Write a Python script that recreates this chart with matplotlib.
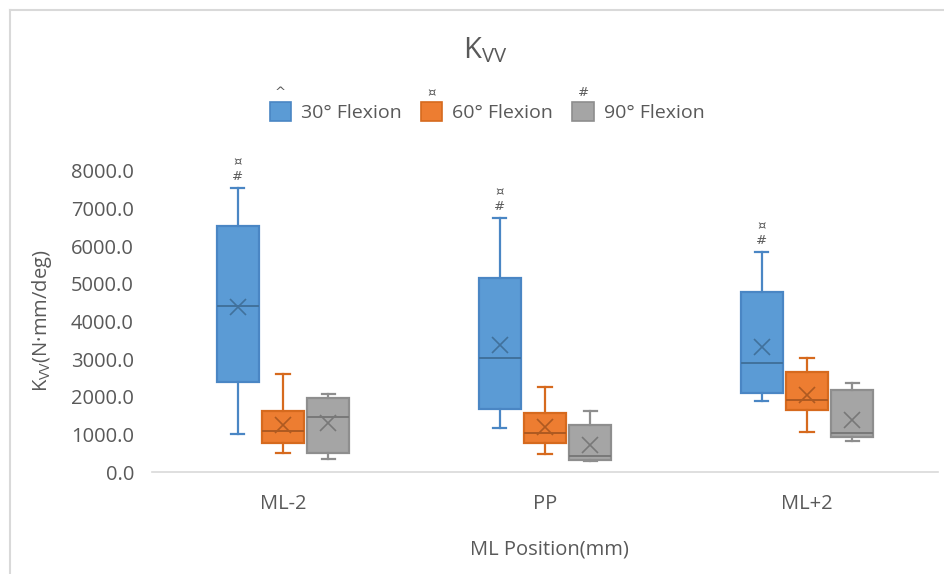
import matplotlib
matplotlib.use("Agg")
import matplotlib.pyplot as plt
from matplotlib.patches import Patch
from matplotlib.lines import Line2D

plt.rcParams['font.family'] = ['Open Sans', 'DejaVu Sans']

# ML positions on the x axis
categories = ["ML-2", "PP", "ML+2"]
series_names = ["30° Flexion", "60° Flexion", "90° Flexion"]
series_marks = ["^", "¤", "#"]

# Box statistics per series, one value per ML position
flex30_whislo = [1010, 1180, 1900]
flex30_q1 = [2385, 1675, 2090]
flex30_med = [4400, 3020, 2890]
flex30_mean = [4380, 3380, 3330]
flex30_q3 = [6540, 5150, 4795]
flex30_whishi = [7550, 6750, 5860]

flex60_whislo = [500, 480, 1070]
flex60_q1 = [760, 760, 1650]
flex60_med = [1090, 1045, 1915]
flex60_mean = [1250, 1190, 2050]
flex60_q3 = [1630, 1560, 2670]
flex60_whishi = [2600, 2250, 3020]

flex90_whislo = [345, 290, 830]
flex90_q1 = [500, 320, 940]
flex90_med = [1470, 425, 1045]
flex90_mean = [1300, 720, 1380]
flex90_q3 = [1980, 1250, 2180]
flex90_whishi = [2060, 1630, 2360]

# significance marks drawn above the 30° boxes
flex30_marks = ["¤\n#", "¤\n#", "¤\n#"]

y_ticks = [0, 1000, 2000, 3000, 4000, 5000, 6000, 7000, 8000]

series_stats = [
    (flex30_whislo, flex30_q1, flex30_med, flex30_mean, flex30_q3, flex30_whishi),
    (flex60_whislo, flex60_q1, flex60_med, flex60_mean, flex60_q3, flex60_whishi),
    (flex90_whislo, flex90_q1, flex90_med, flex90_mean, flex90_q3, flex90_whishi),
]

fills = ["#5B9BD5", "#ED7D31", "#A5A5A5"]
edges = ["#4A86C4", "#D66A1E", "#8E8E8E"]
inner = ["#41719C", "#AE5A21", "#787878"]
text_col = "#595959"

fig = plt.figure(figsize=(9.44, 5.74), dpi=100)
ax = fig.add_axes([152 / 944, 1 - 472 / 574, (938 - 152) / 944, (472 - 171) / 574])

offsets = [-0.172, 0.0, 0.172]
box_w = 0.157
cap_w = 0.05

for s, (lo, q1, med, mean, q3, hi) in enumerate(series_stats):
    stats = []
    for i in range(len(categories)):
        stats.append(dict(whislo=lo[i], q1=q1[i], med=med[i], mean=mean[i],
                          q3=q3[i], whishi=hi[i], fliers=[]))
    pos = [i + offsets[s] for i in range(len(categories))]
    ax.bxp(stats, positions=pos, widths=box_w, capwidths=cap_w,
           patch_artist=True, showmeans=True, showfliers=False,
           boxprops=dict(facecolor=fills[s], edgecolor=edges[s], linewidth=1.6),
           whiskerprops=dict(color=edges[s], linewidth=1.6),
           capprops=dict(color=edges[s], linewidth=1.6),
           medianprops=dict(color=inner[s], linewidth=1.4),
           meanprops=dict(marker='x', markeredgecolor=inner[s], markersize=12,
                          markeredgewidth=1.2, linestyle='none'))

for i, mark in enumerate(flex30_marks):
    ax.annotate(mark, xy=(i + offsets[0], flex30_whishi[i]), xytext=(0, 5),
                textcoords='offset pixels', ha='center', va='bottom',
                fontsize=9.5, color=text_col, family='DejaVu Sans',
                linespacing=1.15, annotation_clip=False)

ax.set_xlim(-0.5, len(categories) - 0.5)
ax.set_ylim(0, 8000)
ax.set_xticks(range(len(categories)))
ax.set_xticklabels(categories)
ax.set_yticks(y_ticks)
ax.set_yticklabels([f"{v:.1f}" for v in y_ticks])
ax.tick_params(axis='both', length=0, labelsize=14.5, colors=text_col)
ax.tick_params(axis='y', pad=13)
ax.tick_params(axis='x', pad=16)
for side in ['top', 'right', 'left']:
    ax.spines[side].set_visible(False)
ax.spines['bottom'].set_color('#D9D9D9')
ax.spines['bottom'].set_linewidth(1.2)

fig.text(549 / 944, 1 - 549 / 574, "ML Position(mm)", ha='center', va='center',
         fontsize=14.5, color=text_col)
fig.text(42 / 944, 1 - 321 / 574, r"K$_{\mathregular{VV}}$(N·mm/deg)", rotation=90,
         ha='center', va='center', fontsize=14.5, color=text_col)
fig.text(485 / 944, 1 - 50 / 574, r"K$_{\mathregular{VV}}$", ha='center', va='center',
         fontsize=21, color=text_col)

handles = [Patch(facecolor=fills[s], edgecolor=edges[s], linewidth=1.2)
           for s in range(3)]
leg = fig.legend(handles, series_names, loc='center', ncol=3,
                 bbox_to_anchor=(487 / 944, 1 - 112 / 574), frameon=False,
                 fontsize=14, handlelength=1.1, handleheight=1.1,
                 handletextpad=0.5, columnspacing=1.0, labelcolor=text_col)

# chart area frame (left and top edges)
fig.add_artist(Line2D([10 / 944, 10 / 944], [0, 1 - 10 / 574], color='#D9D9D9',
                      linewidth=1.5, transform=fig.transFigure))
fig.add_artist(Line2D([10 / 944, 1], [1 - 10 / 574, 1 - 10 / 574], color='#D9D9D9',
                      linewidth=1.5, transform=fig.transFigure))

fig.canvas.draw()
inv = fig.transFigure.inverted()
for s, h in enumerate(leg.legend_handles):
    bb = h.get_window_extent()
    cx, top = inv.transform(((bb.x0 + bb.x1) / 2, bb.y1))
    fig.text(cx, top + 3 / 574, series_marks[s], ha='center', va='bottom',
             fontsize=9.5, color=text_col, family='DejaVu Sans')

fig.savefig("out.png", dpi=100, facecolor='white')
